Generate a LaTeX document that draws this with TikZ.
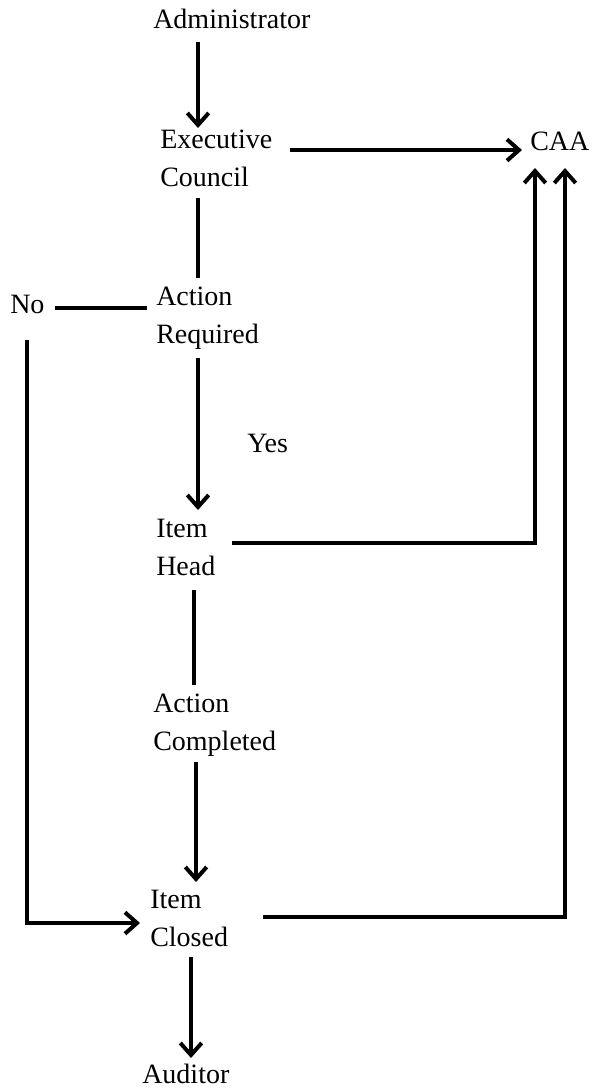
\documentclass[tikz,border=0pt]{standalone}
\usepackage{fontspec}
\setmainfont{Liberation Serif}
\usetikzlibrary{arrows.meta}

\begin{document}
\begin{tikzpicture}[x=0.75pt,y=-0.75pt,
    lbl/.style={inner sep=0pt,anchor=base west,align=left,
      font=\fontsize{21}{28.5}\selectfont},
    link/.style={line width=3pt,black},
    flow/.style={link,-{Straight Barb[length=9pt,width=16pt]}}]
          \useasboundingbox (0,0) rectangle (599,1091);

          % base of a two-line label is its second line
          \node[lbl] (admin)   at (153,29)   {Administrator};
          \node[lbl] (exec)    at (160,187)  {Executive\\Council};
          \node[lbl] (caa)     at (530,151)  {CAA};
          \node[lbl] (no)      at (10,313)   {No};
          \node[lbl] (actreq)  at (156,343)  {Action\\Required};
          \node[lbl] (yes)     at (247,452)  {Yes};
          \node[lbl] (head)    at (156,575)  {Item\\Head};
          \node[lbl] (actdone) at (153,750)  {Action\\Completed};
          \node[lbl] (closed)  at (150,946)  {Item\\Closed};
          \node[lbl] (auditor) at (142,1083) {Auditor};

          \draw[flow] ([shift={(45,13)}]admin.base west) -- ([shift={(38,-59)}]exec.base west);
          \draw[flow] ([shift={(130,-37)}]exec.base west) -- ([shift={(-8,-1)}]caa.base west);
          \draw[link] ([shift={(38,11)}]exec.base west) -- ([shift={(42,-65)}]actreq.base west);
          \draw[link] ([shift={(-9,-35)}]actreq.base west) -- ([shift={(45,-5)}]no.base west);
          \draw[flow] ([shift={(17,27)}]no.base west) |- ([shift={(-10,-23)}]closed.base west);
          \draw[flow] ([shift={(42,15)}]actreq.base west) -- ([shift={(42,-65)}]head.base west);
          \draw[flow] ([shift={(76,-32)}]head.base west) -| ([shift={(5,17)}]caa.base west);
          \draw[link] ([shift={(38,15)}]head.base west) -- ([shift={(41,-65)}]actdone.base west);
          \draw[flow] ([shift={(43,12)}]actdone.base west) -- ([shift={(46,-64)}]closed.base west);
          \draw[flow] ([shift={(113,-29)}]closed.base west) -| ([shift={(35,17)}]caa.base west);
          \draw[flow] ([shift={(41,11)}]closed.base west) -- ([shift={(49,-25)}]auditor.base west);
        \end{tikzpicture}
\end{document}
